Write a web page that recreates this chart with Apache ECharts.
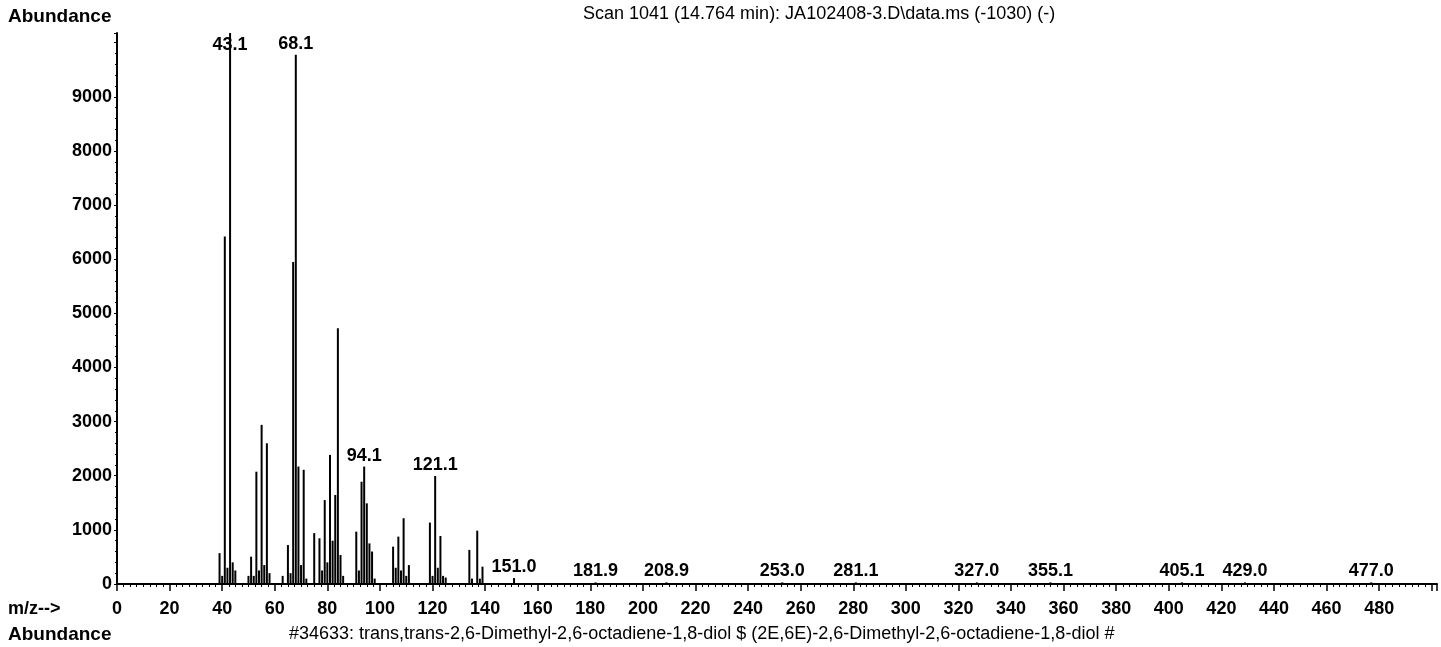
<!DOCTYPE html>
<html><head><meta charset="utf-8">
<script src="https://cdn.jsdelivr.net/npm/echarts@6/dist/echarts.min.js"></script>
<style>html,body{margin:0;padding:0;background:#fff}#c{width:1441px;height:647px}</style>
</head><body><div id="c"></div>
<script>
// m/z values of peaks and their abundances
const mz = [39,40,41,42,43,44,45,50,51,52,53,54,55,56,57,58,63,65,66,67,68,69,70,71,72,
  75,77,78,79,80,81,82,83,84,85,86,91,92,93,94,95,96,97,98,105,106,107,108,109,110,111,
  119,120,121,122,123,124,125,134,135,137,138,139,151,182,209,253,281,327,355,405,429,477];
const abundance = [570,150,6420,300,10180,400,250,150,505,150,2075,250,2940,350,2600,200,150,720,200,5950,9780,2170,350,2110,100,
  940,845,250,1550,400,2385,800,1645,4725,536,150,967,250,1890,2170,1490,750,600,100,690,300,875,250,1215,150,350,
  1135,150,1995,300,887,150,120,630,100,985,100,320,110,30,30,30,30,30,30,30,30,30];
// labelled peaks
const labelMz = [43,68,94,121,151,182,209,253,281,327,355,405,429,477];
const labelText = ['43.1','68.1','94.1','121.1','151.0','181.9','208.9','253.0','281.1','327.0','355.1','405.1','429.0','477.0'];
// axis settings
const xMax = 502, xStep = 20, xLastLabel = 480;
const yMax = 10180, yStep = 1000, yLastLabel = 9000;
const titleText = 'Scan 1041 (14.764 min): JA102408-3.D\\data.ms (-1030) (-)';
const compoundText = '#34633: trans,trans-2,6-Dimethyl-2,6-octadiene-1,8-diol $ (2E,6E)-2,6-Dimethyl-2,6-octadiene-1,8-diol #';

const FONT = 'Liberation Sans, Arial, sans-serif';
const data = mz.map((m, i) => {
  const li = labelMz.indexOf(m);
  const item = { value: [m, abundance[i]] };
  if (li >= 0) {
    item.label = {
      show: true,
      formatter: labelText[li],
      position: abundance[i] === yMax ? 'insideTop' : 'top',
      distance: abundance[i] === yMax ? 3 : 2,
      color: '#000', fontSize: 18, fontWeight: 'bold', fontFamily: FONT
    };
  }
  return item;
});

const chart = echarts.init(document.getElementById('c'), null, {renderer: 'canvas'});
chart.setOption({
  backgroundColor: '#fff',
  animation: false,
  grid: { left: 117, right: 4, top: 33, bottom: 63, containLabel: false },
  xAxis: {
    type: 'value', min: 0, max: xMax, interval: xStep,
    axisLine: { lineStyle: { color: '#000', width: 2 } },
    axisTick: { length: 7, lineStyle: { color: '#000', width: 1.5 } },
    minorTick: { show: true, splitNumber: 8, length: 3, lineStyle: { color: '#000', width: 1 } },
    splitLine: { show: false },
    axisLabel: { color: '#000', fontSize: 18, fontWeight: 'bold', fontFamily: FONT, margin: 16,
      formatter: v => v > xLastLabel ? '' : String(v) }
  },
  yAxis: {
    type: 'value', min: 0, max: yMax, interval: yStep,
    axisLine: { show: true, lineStyle: { color: '#000', width: 2 } },
    axisTick: { show: true, length: 3, lineStyle: { color: '#000' } },
    minorTick: { show: true, splitNumber: 5, length: 2, lineStyle: { color: '#000' } },
    splitLine: { show: false },
    axisLabel: { color: '#000', fontSize: 18, fontWeight: 'bold', fontFamily: FONT, margin: 5,
      formatter: v => v > yLastLabel ? '' : String(v) }
  },
  series: [{
    type: 'bar', barWidth: 2, data: data,
    itemStyle: { color: '#000' },
    label: { show: false }
  }],
  graphic: [
    { type: 'text', left: 8, top: 7, style: { text: 'Abundance', font: 'bold 19px ' + FONT, fill: '#000' } },
    { type: 'text', left: 583, top: 5, style: { text: titleText, font: '18px ' + FONT, fill: '#000' } },
    { type: 'text', left: 8, top: 600, style: { text: 'm/z-->', font: 'bold 18px ' + FONT, fill: '#000' } },
    { type: 'text', left: 8, top: 625, style: { text: 'Abundance', font: 'bold 19px ' + FONT, fill: '#000' } },
    { type: 'text', left: 289, top: 625, style: { text: compoundText, font: '18px ' + FONT, fill: '#000' } }
  ]
});
</script></body></html>
